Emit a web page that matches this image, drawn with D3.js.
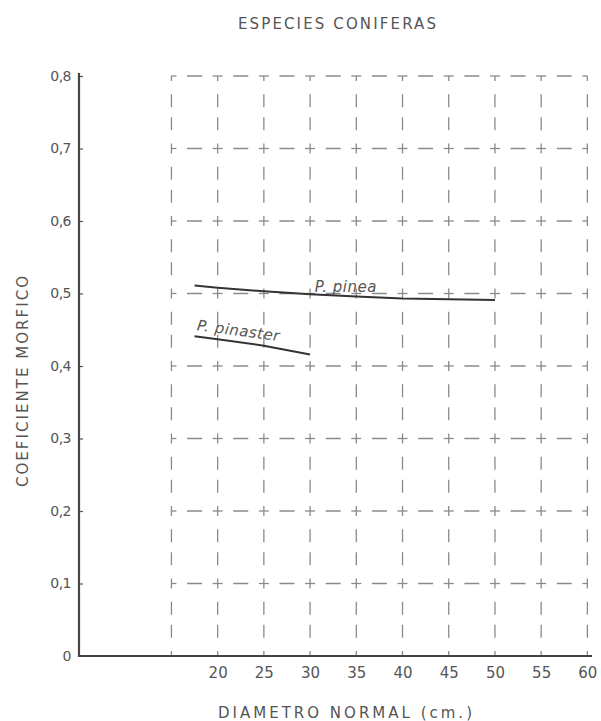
<!DOCTYPE html>
<html>
<head>
<meta charset="utf-8">
<script src="https://cdn.jsdelivr.net/npm/d3@7"></script>
<style>
  html, body { margin: 0; padding: 0; background: #fff; }
  svg { display: block; }
  text { font-family: "DejaVu Sans", sans-serif; fill: #555; }
</style>
</head>
<body>
<svg id="chart" width="601" height="721"></svg>
<script>
// ---- data ----
const title = "ESPECIES  CONIFERAS";
const xTitle = "DIAMETRO  NORMAL  (cm.)";
const yTitle = "COEFICIENTE  MORFICO";
const xTicks = [20, 25, 30, 35, 40, 45, 50, 55, 60];
const yTicks = [0, 0.1, 0.2, 0.3, 0.4, 0.5, 0.6, 0.7, 0.8];
const gridX = [15, 20, 25, 30, 35, 40, 45, 50, 55, 60];
const pineaX = [17.5, 20, 25, 30, 35, 40, 45, 50];
const pineaY = [0.511, 0.508, 0.503, 0.499, 0.496, 0.493, 0.492, 0.491];
const pinasterX = [17.5, 20, 25, 30];
const pinasterY = [0.441, 0.437, 0.428, 0.416];
const seriesNames = ["P. pinea", "P. pinaster"];

// ---- scales ----
const svg = d3.select("#chart");
const x = d3.scaleLinear().domain([5, 60.5]).range([79, 592]);
const y = d3.scaleLinear().domain([0, 0.8]).range([656, 76]);

const gridColor = "#8a8a8a";
const g = svg.append("g");

// vertical grid segments
const yGrid = yTicks;
for (const gx of gridX) {
  for (let i = 0; i < yGrid.length - 1; i++) {
    const y0 = y(yGrid[i]), y1 = y(yGrid[i + 1]);
    const L = Math.abs(y0 - y1);
    const m = (L - 36) / 2;
    g.append("line")
      .attr("x1", x(gx)).attr("x2", x(gx))
      .attr("y1", y1).attr("y2", y0)
      .attr("stroke", gridColor).attr("stroke-width", 1.3)
      .attr("stroke-dasharray", `0,${m},13,10,13,${L}`);
  }
}
// horizontal grid segments
for (const gy of yTicks.slice(1)) {
  for (let i = 0; i < gridX.length - 1; i++) {
    const x0 = x(gridX[i]), x1 = x(gridX[i + 1]);
    const L = x1 - x0;
    const d = 15;
    const m = (L - d) / 2;
    g.append("line")
      .attr("x1", x0).attr("x2", x1)
      .attr("y1", y(gy)).attr("y2", y(gy))
      .attr("stroke", gridColor).attr("stroke-width", 1.3)
      .attr("stroke-dasharray", `0,${m},${d},${L}`);
  }
}
// crosses at intersections
const arm = 5;
for (const gx of gridX) {
  for (const gy of yTicks) {
    const cx = x(gx), cy = y(gy);
    const first = gx === gridX[0], last = gx === gridX[gridX.length - 1];
    const top = gy === yTicks[yTicks.length - 1], bottom = gy === 0;
    if (!bottom) {
      g.append("line")
        .attr("x1", first ? cx : cx - arm).attr("x2", last ? cx : cx + arm)
        .attr("y1", cy).attr("y2", cy)
        .attr("stroke", gridColor).attr("stroke-width", 1.3);
    }
    g.append("line")
      .attr("x1", cx).attr("x2", cx)
      .attr("y1", top ? cy : cy - arm).attr("y2", bottom ? cy : cy + arm)
      .attr("stroke", gridColor).attr("stroke-width", 1.3);
  }
}

// ---- axes ----
const fmt = d => d === 0 ? "0" : d3.format(".1f")(d).replace(".", ",");
const yAxis = svg.append("g")
  .attr("transform", `translate(${x(5)},0)`)
  .call(d3.axisLeft(y).tickValues(yTicks).tickFormat(fmt).tickSizeInner(-4).tickSizeOuter(0).tickPadding(8));
yAxis.select(".domain").remove();
yAxis.selectAll(".tick line").attr("stroke", "#555").attr("stroke-width", 1.2)
  .filter(d => d === 0).remove();
yAxis.selectAll(".tick text").attr("font-size", 14).attr("fill", "#555")
  .attr("font-family", "DejaVu Sans, sans-serif").attr("letter-spacing", -0.5);

const xAxis = svg.append("g")
  .attr("transform", `translate(0,${y(0)})`)
  .call(d3.axisBottom(x).tickValues(xTicks).tickSize(0).tickPadding(11));
xAxis.select(".domain").remove();
xAxis.selectAll(".tick text").attr("font-size", 15).attr("fill", "#555")
  .attr("font-family", "DejaVu Sans, sans-serif");

// axis lines
svg.append("line")
  .attr("x1", x(5)).attr("x2", x(5)).attr("y1", y(0.8) - 3).attr("y2", y(0) + 1)
  .attr("stroke", "#444").attr("stroke-width", 2.2);
svg.append("line")
  .attr("x1", x(5) - 1).attr("x2", x(60.5)).attr("y1", y(0)).attr("y2", y(0))
  .attr("stroke", "#444").attr("stroke-width", 2.2);

// ---- series ----
const line = d3.line().x(d => x(d[0])).y(d => y(d[1]));
svg.append("path")
  .datum(pineaX.map((v, i) => [v, pineaY[i]]))
  .attr("d", line).attr("fill", "none").attr("stroke", "#333").attr("stroke-width", 2);
svg.append("path")
  .datum(pinasterX.map((v, i) => [v, pinasterY[i]]))
  .attr("d", line).attr("fill", "none").attr("stroke", "#333").attr("stroke-width", 2);

// series labels
svg.append("text")
  .attr("x", x(30.5)).attr("y", y(0.5) - 2)
  .attr("font-size", 15).attr("font-style", "italic").attr("fill", "#444")
  .attr("letter-spacing", 0.5)
  .text(seriesNames[0]);
const px = x(17.7), py = y(0.441) - 6;
svg.append("text")
  .attr("x", px).attr("y", py)
  .attr("transform", `rotate(7.5,${px},${py})`)
  .attr("font-size", 15).attr("font-style", "italic").attr("fill", "#444")
  .attr("letter-spacing", 0.5)
  .text(seriesNames[1]);

// ---- titles ----
svg.append("text")
  .attr("x", 238).attr("y", 29)
  .attr("font-size", 15).attr("letter-spacing", 1)
  .attr("textLength", 199).attr("lengthAdjust", "spacing")
  .text(title);
svg.append("text")
  .attr("x", 218).attr("y", 718)
  .attr("font-size", 15).attr("letter-spacing", 1)
  .attr("textLength", 255).attr("lengthAdjust", "spacing")
  .text(xTitle);
svg.append("text")
  .attr("transform", "translate(28,487) rotate(-90)")
  .attr("x", 0).attr("y", 0)
  .attr("font-size", 15).attr("letter-spacing", 1)
  .attr("textLength", 212).attr("lengthAdjust", "spacing")
  .text(yTitle);
</script>
</body>
</html>
